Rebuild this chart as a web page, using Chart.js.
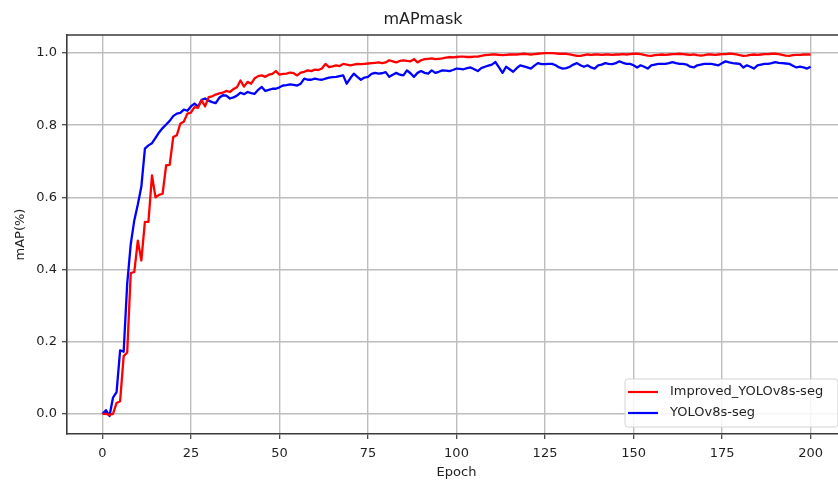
<!DOCTYPE html>
<html>
<head>
<meta charset="utf-8">
<script src="https://cdn.jsdelivr.net/npm/chart.js@4/dist/chart.umd.min.js"></script>
<style>
html,body{margin:0;padding:0;background:#fff;overflow:hidden;}
#wrap{width:860px;height:481px;position:relative;}
</style>
</head>
<body>
<div id="wrap"><canvas id="c"></canvas></div>
<script>
const epochs = Array.from({length: 201}, (_, i) => i);
const xTicks = [0, 25, 50, 75, 100, 125, 150, 175, 200];
const yTicks = [0.0, 0.2, 0.4, 0.6, 0.8, 1.0];
const seriesNames = ['Improved_YOLOv8s-seg', 'YOLOv8s-seg'];
const improved = [
0,0,-0.003,0.0,0.03,0.035,0.16,0.17,0.39,0.393,
0.48,0.425,0.532,0.532,0.661,0.6,0.607,0.61,0.689,0.69,
0.767,0.772,0.804,0.81,0.832,0.835,0.85,0.848,0.869,0.852,
0.878,0.88,0.885,0.888,0.89,0.895,0.892,0.9,0.905,0.924,
0.907,0.92,0.915,0.93,0.936,0.938,0.934,0.94,0.942,0.95,
0.94,0.942,0.943,0.946,0.944,0.938,0.946,0.948,0.952,0.95,
0.954,0.953,0.957,0.97,0.961,0.963,0.966,0.964,0.97,0.968,
0.966,0.968,0.97,0.969,0.97,0.971,0.972,0.973,0.974,0.972,
0.974,0.98,0.977,0.974,0.978,0.98,0.978,0.977,0.983,0.974,
0.98,0.983,0.984,0.985,0.983,0.984,0.985,0.987,0.989,0.988,
0.989,0.99,0.99,0.989,0.989,0.99,0.99,0.992,0.994,0.995,
0.996,0.996,0.995,0.994,0.995,0.996,0.996,0.996,0.997,0.998,
0.997,0.996,0.997,0.998,0.999,1.0,1.0,1.0,0.999,0.998,
0.998,0.998,0.996,0.994,0.992,0.992,0.994,0.996,0.995,0.996,
0.996,0.995,0.996,0.996,0.995,0.996,0.996,0.997,0.996,0.997,
0.998,0.998,0.997,0.995,0.993,0.992,0.994,0.995,0.996,0.995,
0.996,0.997,0.997,0.998,0.997,0.996,0.995,0.996,0.994,0.993,
0.994,0.996,0.996,0.995,0.996,0.997,0.997,0.998,0.998,0.996,
0.994,0.992,0.993,0.995,0.996,0.995,0.996,0.997,0.997,0.998,
0.998,0.997,0.995,0.993,0.992,0.994,0.995,0.995,0.996,0.996,
0.996
];
const baseline = [
0,0.01,-0.006,0.045,0.06,0.176,0.172,0.36,0.47,0.536,
0.58,0.63,0.735,0.744,0.75,0.765,0.78,0.792,0.802,0.812,
0.825,0.832,0.834,0.843,0.84,0.852,0.86,0.852,0.87,0.874,
0.868,0.864,0.861,0.876,0.883,0.882,0.874,0.877,0.882,0.89,
0.886,0.892,0.889,0.887,0.898,0.906,0.895,0.898,0.901,0.901,
0.905,0.91,0.911,0.913,0.912,0.91,0.915,0.929,0.926,0.926,
0.929,0.927,0.926,0.929,0.932,0.933,0.934,0.936,0.938,0.915,
0.93,0.943,0.934,0.926,0.932,0.934,0.942,0.945,0.943,0.944,
0.947,0.934,0.94,0.945,0.94,0.938,0.952,0.944,0.934,0.945,
0.95,0.945,0.943,0.952,0.945,0.948,0.952,0.951,0.95,0.953,
0.957,0.956,0.955,0.958,0.96,0.955,0.95,0.958,0.962,0.965,
0.968,0.975,0.96,0.945,0.962,0.955,0.948,0.958,0.966,0.963,
0.96,0.957,0.965,0.972,0.969,0.969,0.97,0.97,0.966,0.96,
0.957,0.958,0.962,0.968,0.972,0.966,0.962,0.966,0.96,0.957,
0.966,0.968,0.972,0.97,0.969,0.972,0.977,0.973,0.97,0.97,
0.966,0.96,0.966,0.962,0.957,0.966,0.968,0.97,0.97,0.97,
0.972,0.975,0.972,0.97,0.97,0.968,0.962,0.96,0.966,0.968,
0.97,0.97,0.97,0.968,0.966,0.972,0.977,0.974,0.972,0.971,
0.97,0.96,0.966,0.962,0.957,0.966,0.968,0.97,0.97,0.972,
0.975,0.973,0.972,0.971,0.97,0.965,0.96,0.962,0.96,0.957,
0.962
];

const FONT = 'DejaVu Sans';
const TXT = '#1f1f1f';

const frame = {
  id: 'frame',
  afterDraw(chart) {
    const {ctx, chartArea: a} = chart;
    ctx.save();
    ctx.strokeStyle = '#3a3a3a';
    ctx.lineWidth = 1.6;
    ctx.beginPath();
    ctx.moveTo(a.left, a.top); ctx.lineTo(a.right, a.top);
    ctx.lineTo(a.right, a.bottom);
    ctx.stroke();
    // legend
    const bx = 625, by = 379, bw = 213, bh = 48, r = 3;
    ctx.fillStyle = 'rgba(255,255,255,0.85)';
    ctx.strokeStyle = '#d4d4d4';
    ctx.lineWidth = 1;
    ctx.beginPath();
    ctx.moveTo(bx + r, by);
    ctx.lineTo(bx + bw - r, by); ctx.arcTo(bx + bw, by, bx + bw, by + r, r);
    ctx.lineTo(bx + bw, by + bh - r); ctx.arcTo(bx + bw, by + bh, bx + bw - r, by + bh, r);
    ctx.lineTo(bx + r, by + bh); ctx.arcTo(bx, by + bh, bx, by + bh - r, r);
    ctx.lineTo(bx, by + r); ctx.arcTo(bx, by, bx + r, by, r);
    ctx.closePath(); ctx.fill(); ctx.stroke();
    ctx.font = '13px "' + FONT + '"';
    ctx.textBaseline = 'middle';
    ctx.textAlign = 'left';
    chart.data.datasets.forEach((ds, i) => {
      const y = 392 + i * 21;
      ctx.strokeStyle = ds.borderColor;
      ctx.lineWidth = 2.2;
      ctx.beginPath(); ctx.moveTo(628, y); ctx.lineTo(658, y); ctx.stroke();
      ctx.fillStyle = TXT;
      ctx.fillText(ds.label, 670, y);
    });
    ctx.restore();
  }
};

new Chart(document.getElementById('c'), {
  type: 'line',
  data: {
    labels: epochs,
    datasets: [
      {label: seriesNames[0], data: improved, borderColor: '#ff0000', borderWidth: 2.3, pointRadius: 0, tension: 0, fill: false, borderJoinStyle: 'round'},
      {label: seriesNames[1], data: baseline, borderColor: '#0000ff', borderWidth: 2.3, pointRadius: 0, tension: 0, fill: false, borderJoinStyle: 'round'}
    ]
  },
  options: {
    responsive: true,
    maintainAspectRatio: false,
    animation: false,
    events: [],
    layout: {padding: {left: 0, right: 14, top: 0, bottom: 0}},
    plugins: {
      legend: {display: false},
      tooltip: {enabled: false},
      title: {
        display: true, text: 'mAPmask', color: TXT,
        font: {family: FONT, size: 16, weight: 'normal'},
        padding: {top: 10, bottom: 5.8}
      }
    },
    scales: {
      x: {
        type: 'linear', min: -10, max: 210,
        afterBuildTicks: s => { s.ticks = xTicks.map(v => ({value: v})); },
        afterFit: s => { s.height = 47; },
        grid: {color: '#bdbdbd', lineWidth: 1.4, tickColor: '#3a3a3a', tickLength: 5, tickWidth: 1.2},
        border: {color: '#3a3a3a', width: 1.6},
        ticks: {color: TXT, font: {family: FONT, size: 13}, padding: 7, maxRotation: 0, autoSkip: false,
          callback: v => String(v)},
        title: {display: true, text: 'Epoch', color: TXT, font: {family: FONT, size: 13}, padding: {top: 0, bottom: 1}}
      },
      y: {
        type: 'linear', min: -0.056, max: 1.05,
        afterBuildTicks: s => { s.ticks = yTicks.map(v => ({value: v})); },
        afterFit: s => { s.width = 67; },
        grid: {color: '#bdbdbd', lineWidth: 1.4, tickColor: '#3a3a3a', tickLength: 5, tickWidth: 1.2},
        border: {color: '#3a3a3a', width: 1.6},
        ticks: {color: TXT, font: {family: FONT, size: 13}, padding: 5, autoSkip: false,
          callback: v => v.toFixed(1)},
        title: {display: true, text: 'mAP(%)', color: TXT, font: {family: FONT, size: 13}, padding: {top: 13, bottom: 0}}
      }
    }
  },
  plugins: [frame]
});
</script>
</body>
</html>
